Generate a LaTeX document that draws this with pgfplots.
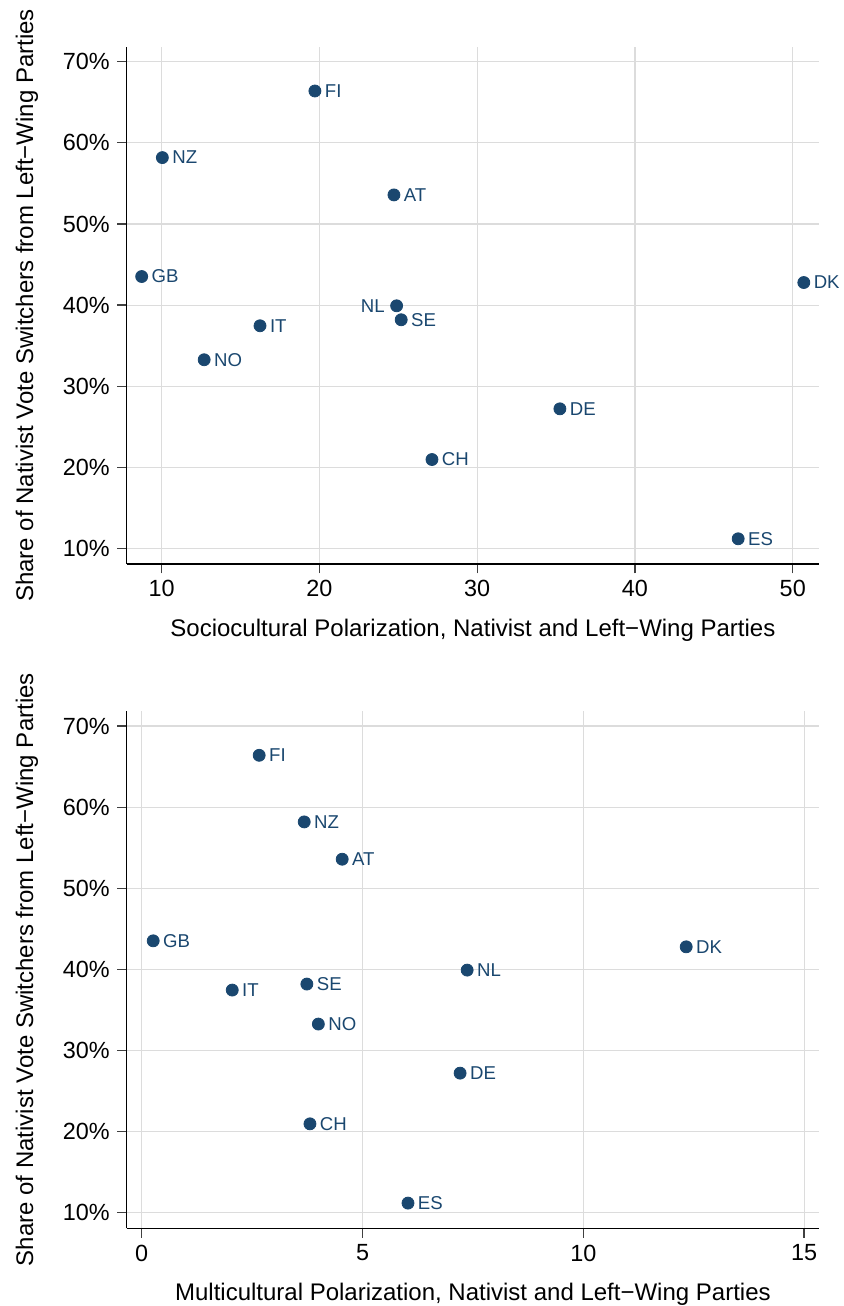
\documentclass[border=0pt]{standalone}
\usepackage{fontspec}
\setmainfont{Liberation Sans}
\usepackage{pgfplots}
\usepackage{pgfplotstable}
\pgfplotsset{compat=1.18}

\definecolor{stnavy}{RGB}{26,71,111}
\definecolor{gridgray}{RGB}{220,220,220}

% x, y (share in %), country label
\pgfplotstableread{
x y lab
19.71 66.39 FI
10.04 58.18 NZ
24.72 53.58 AT
8.73 43.52 GB
50.70 42.78 DK
25.18 38.19 SE
16.23 37.45 IT
12.69 33.26 NO
35.24 27.21 DE
27.13 20.96 CH
46.54 11.19 ES
}\socio
\pgfplotstableread{
x y lab
24.89 39.91 NL
}\socionl
\pgfplotstableread{
x y lab
2.66 66.39 FI
3.68 58.18 NZ
4.54 53.58 AT
0.26 43.52 GB
12.33 42.78 DK
7.37 39.91 NL
3.74 38.19 SE
2.05 37.45 IT
4.00 33.26 NO
7.21 27.21 DE
3.81 20.96 CH
6.03 11.19 ES
}\multi

\pgfplotsset{
  panel/.style={
    scale only axis, width=346.2pt, height=258.7pt,
    axis x line*=bottom, axis y line*=left,
    axis line style={black, line width=0.7pt, -},
    ymin=8.07, ymax=71.85,
    ytick={10,20,30,40,50,60,70},
    yticklabels={10\%,20\%,30\%,40\%,50\%,60\%,70\%},
    grid=major, major grid style={gridgray, line width=0.55pt},
    tick align=outside, major tick length=4.65pt,
    tick style={black!75, line width=0.6pt},
    tick label style={font=\fontsize{11.7}{14}\selectfont, inner sep=0pt},
    xticklabel style={yshift=-3.3pt},
    yticklabel style={xshift=-3.7pt},
    label style={font=\fontsize{12}{14}\selectfont, inner sep=0pt},
    xlabel style={at={(axis description cs:0.5,-0.1283)}, anchor=center},
    ylabel style={at={(axis description cs:-0.144,0.5)}, anchor=center},
    ylabel={Share of Nativist Vote Switchers from Left−Wing Parties},
    clip=false,
  },
  dots/.style={only marks, mark=*, mark size=3pt,
    mark options={draw=stnavy, fill=stnavy},
    point meta=explicit symbolic, nodes near coords,
    every node near coord/.append style={font=\fontsize{9.3}{11}\selectfont,
      text=stnavy, inner sep=0pt, anchor=west, xshift=4.8pt}},
}

\begin{document}
\begin{tikzpicture}
\useasboundingbox (-63.35pt,23.35pt) rectangle (358.15pt,-629.65pt);

\begin{axis}[panel, at={(0,0)}, anchor=north west,
  xmin=7.78, xmax=51.67,
  xtick={10,20,30,40,50}, xticklabels={10,20,30,40,50},
  xlabel={Sociocultural Polarization, Nativist and Left−Wing Parties}]
\addplot[dots] table[x=x, y=y, meta=lab] {\socio};
\addplot[dots, every node near coord/.append style={anchor=east, xshift=-10.6pt}]
  table[x=x, y=y, meta=lab] {\socionl};
\end{axis}

\begin{axis}[panel, at={(0,-332.15pt)}, anchor=north west,
  xmin=-0.34, xmax=15.34,
  xtick={0,5,10,15}, xticklabels={0,5,10,15},
  xlabel={Multicultural Polarization, Nativist and Left−Wing Parties}]
\addplot[dots] table[x=x, y=y, meta=lab] {\multi};
\end{axis}
\end{tikzpicture}
\end{document}
